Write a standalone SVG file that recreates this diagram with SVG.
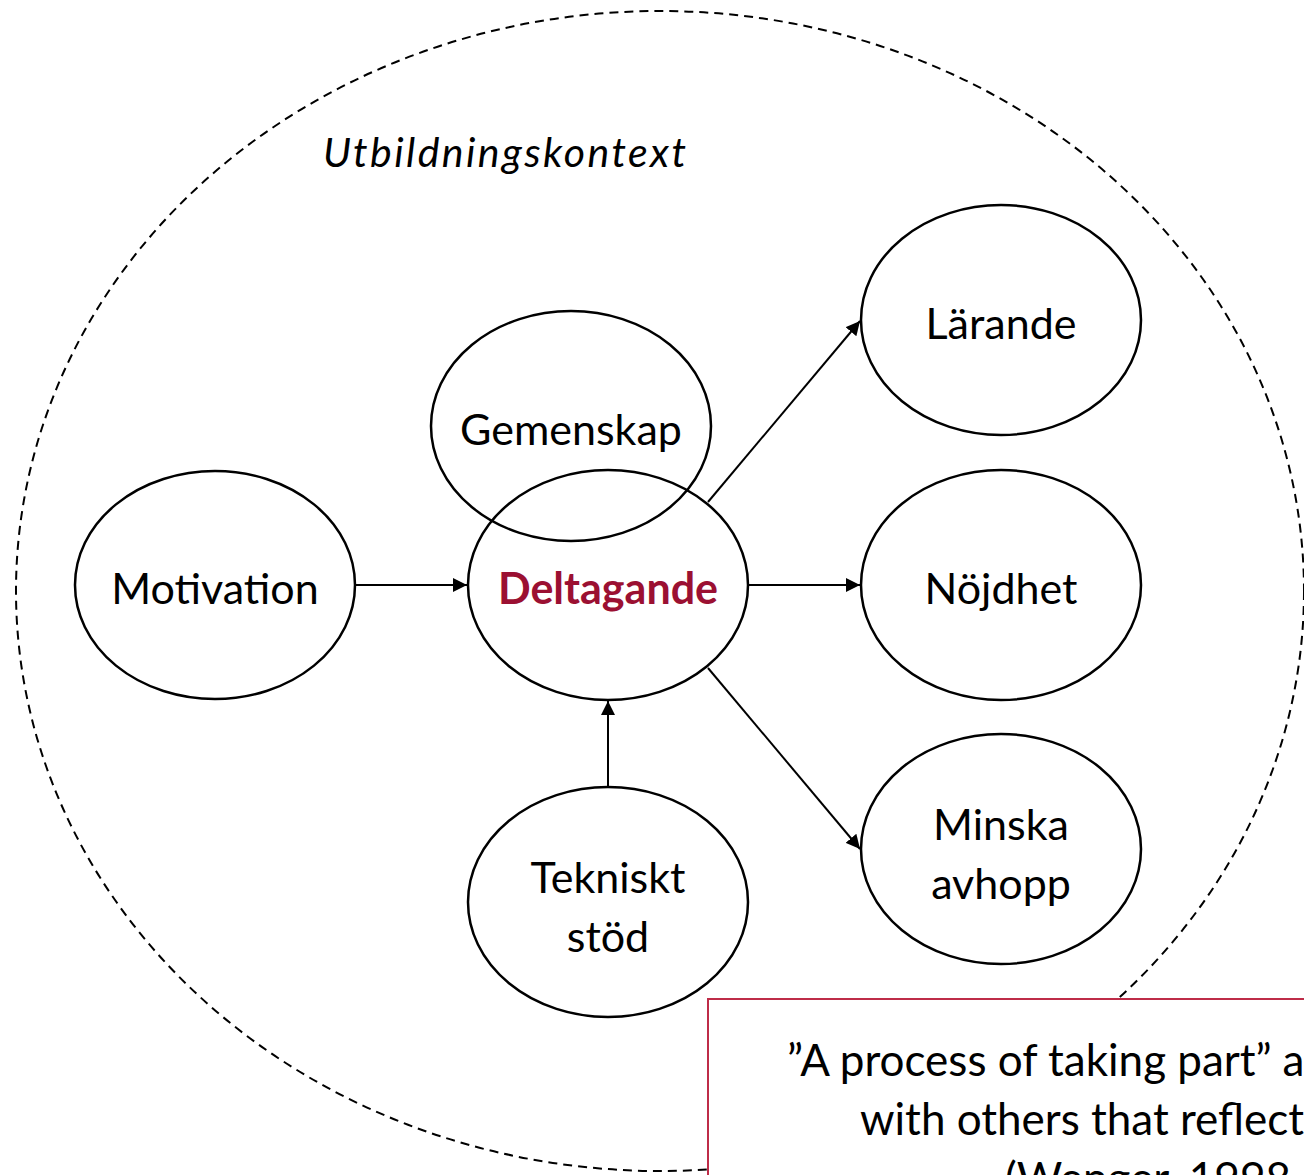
<svg xmlns="http://www.w3.org/2000/svg" width="1304" height="1175" viewBox="0 0 1304 1175">
<defs>
<style>
.node{fill:#fff;stroke:#000;stroke-width:2.5}
.lbl{font-family:Lato,"Open Sans","Liberation Sans",sans-serif;font-size:43px;fill:#000;text-anchor:middle}
.q{font-family:Lato,"Open Sans","Liberation Sans",sans-serif;font-size:44px;fill:#000}
.conn{stroke:#000;stroke-width:2;fill:none;marker-end:url(#ah)}
</style>
<marker id="ah" viewBox="0 0 10 10" refX="10" refY="5" markerWidth="14" markerHeight="14" markerUnits="userSpaceOnUse" orient="auto">
<path d="M0,0 L10,5 L0,10 z" fill="#000"/>
</marker>
</defs>
<rect width="1304" height="1175" fill="#fff"/>
<g id="context">
<ellipse cx="660" cy="591" rx="644" ry="580" fill="none" stroke="#000" stroke-width="2" stroke-dasharray="9,6"/>
<text x="323" y="167" textLength="363" lengthAdjust="spacing" style="font-family:Lato,'Open Sans','Liberation Sans',sans-serif;font-size:41px;font-style:italic">Utbildningskontext</text>
</g>
<g id="connectors">
<line class="conn" x1="356" y1="585" x2="467" y2="585"/>
<line class="conn" x1="749" y1="585" x2="860" y2="585"/>
<line class="conn" x1="608" y1="787" x2="608" y2="701"/>
<line class="conn" x1="708" y1="502" x2="860" y2="321"/>
<line class="conn" x1="708" y1="668" x2="860" y2="849"/>
</g>
<g id="motivation"><ellipse class="node" cx="215" cy="585" rx="140" ry="114"/><text class="lbl" x="215" y="604">Motivation</text></g>
<g id="deltagande"><ellipse class="node" cx="608" cy="585" rx="140" ry="115"/><text class="lbl" x="608" y="604" style="font-weight:bold;fill:#9b1032">Deltagande</text></g>
<g id="gemenskap"><ellipse class="node" cx="571" cy="426" rx="140" ry="115" style="fill:none"/><text class="lbl" x="571" y="445">Gemenskap</text></g>
<g id="larande"><ellipse class="node" cx="1001" cy="320" rx="140" ry="115"/><text class="lbl" x="1001" y="339">Lärande</text></g>
<g id="nojdhet"><ellipse class="node" cx="1001" cy="585" rx="140" ry="115"/><text class="lbl" x="1001" y="604">Nöjdhet</text></g>
<g id="minska"><ellipse class="node" cx="1001" cy="849" rx="140" ry="115"/><text class="lbl" x="1001" y="840">Minska</text><text class="lbl" x="1001" y="899">avhopp</text></g>
<g id="tekniskt"><ellipse class="node" cx="608" cy="902" rx="140" ry="115"/><text class="lbl" x="608" y="893">Tekniskt</text><text class="lbl" x="608" y="952">stöd</text></g>
<g id="quote">
<rect x="708" y="999" width="620" height="200" fill="#fff" stroke="#be2c48" stroke-width="2"/>
<text class="q" x="787" y="1076">”A process of taking part” a</text>
<text class="q" x="860" y="1135">with others that reflect</text>
<text class="q" x="1005" y="1194">(Wenger, 1998</text>
</g>
</svg>
